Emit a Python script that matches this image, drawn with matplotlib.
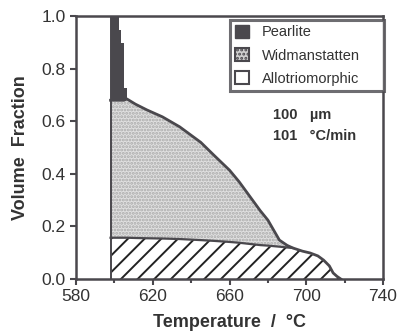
import numpy as np
import matplotlib.pyplot as plt
from matplotlib.patches import Patch

plt.rcParams['font.family'] = ['Liberation Sans', 'DejaVu Sans']
plt.rcParams['hatch.linewidth'] = 1.4

# Temperature grid (deg C) and phase boundaries (cumulative volume fraction)
temp = [598, 602, 602.5, 603, 605, 606.5, 611, 617, 625, 634, 645, 652, 660,
        665, 671, 676, 680, 686, 690, 693, 698, 702, 706, 709, 712, 714, 716, 718]
widman_top = [0.68, 0.68, 0.68, 0.68, 0.68, 0.685, 0.665, 0.643, 0.617, 0.579,
              0.52, 0.47, 0.414, 0.37, 0.31, 0.26, 0.224, 0.148, 0.128, 0.118,
              0.106, 0.099, 0.088, 0.072, 0.05, 0.023, 0.01, 0.0]
allot_level = [0.157, 0.157, 0.157, 0.157, 0.157, 0.157, 0.156, 0.155, 0.154,
               0.152, 0.148, 0.145, 0.141, 0.138, 0.133, 0.129, 0.127, 0.123,
               0.120, 0.118, 0.106, 0.099, 0.088, 0.072, 0.05, 0.023, 0.01, 0.0]

# Pearlite steps on top of the Widmanstatten region
pearl_temp = [598, 602.4, 603.3, 605, 606.4]
pearl_top = [1.0, 0.949, 0.896, 0.725, 0.725]
pearl_base = 0.68

dark = '#4a484d'
txt = '#333333'
temp = np.array(temp)
widman_top = np.array(widman_top)
allot_top = np.minimum(np.array(allot_level), widman_top)

fig = plt.figure(figsize=(3.99, 3.36), dpi=100)
ax = fig.add_axes([0.1905, 0.1696, 0.7695, 0.7824])

# Allotriomorphic ferrite (hatched)
ax.fill_between(temp, 0, allot_top, facecolor='white', edgecolor='#222222',
                hatch='//', linewidth=0)
# Widmanstatten ferrite (stippled)
ax.fill_between(temp, allot_top, widman_top, facecolor='#e0e0e0',
                edgecolor='#aaaaaa', hatch='.....', linewidth=0)
# Pearlite
ax.fill_between(pearl_temp, pearl_base, pearl_top, step='post',
                facecolor=dark, linewidth=0)

ax.plot(temp, widman_top, color=dark, lw=2.0)
ax.plot(temp[temp <= 693], allot_top[temp <= 693], color=dark, lw=1.6)
ax.plot([598, 598], [0, 1.0], color=dark, lw=1.4)

ax.set_xlim(580, 740)
ax.set_ylim(0, 1.0)
ax.set_xticks([580, 620, 660, 700, 740])
ax.set_xticks([600, 640, 680, 720], minor=True)
ax.set_yticks([0.0, 0.2, 0.4, 0.6, 0.8, 1.0])
ax.set_yticklabels(['0.0', '0.2', '0.4', '0.6', '0.8', '1.0'])
ax.tick_params(which='both', direction='out', length=4, width=1.5,
               color=dark, labelsize=12.5, labelcolor=txt)
ax.tick_params(axis='x', which='minor', length=3)
for s in ax.spines.values():
    s.set_linewidth(1.8)
    s.set_color(dark)

ax.set_xlabel('Temperature  /  °C', fontsize=13, fontweight='bold',
              color=txt, labelpad=7)
ax.set_ylabel('Volume  Fraction', fontsize=13, fontweight='bold',
              color=txt, labelpad=9)

handles = [Patch(facecolor=dark, edgecolor=dark),
           Patch(facecolor='#cfcfcf', edgecolor=dark, hatch='....', lw=1.5),
           Patch(facecolor='white', edgecolor=dark, lw=1.5)]
leg = ax.legend(handles, ['Pearlite', 'Widmanstatten', 'Allotriomorphic'],
                loc='upper left', bbox_to_anchor=(0.5016, 0.0, 0.501, 0.985),
                mode='expand', borderaxespad=0, fontsize=10.5,
                handlelength=0.95, handleheight=0.95, handletextpad=0.9,
                labelspacing=0.6, fancybox=False, borderpad=0.35)
leg.get_frame().set_edgecolor(dark)
leg.get_frame().set_linewidth(2.2)
for t in leg.get_texts():
    t.set_color(txt)

ax.text(682.5, 0.624, '100   µm', fontsize=10.5, fontweight='bold',
        color=txt, va='center')
ax.text(682.5, 0.544, '101   °C/min', fontsize=10.5, fontweight='bold',
        color=txt, va='center')

fig.savefig('out.png', dpi=100)
